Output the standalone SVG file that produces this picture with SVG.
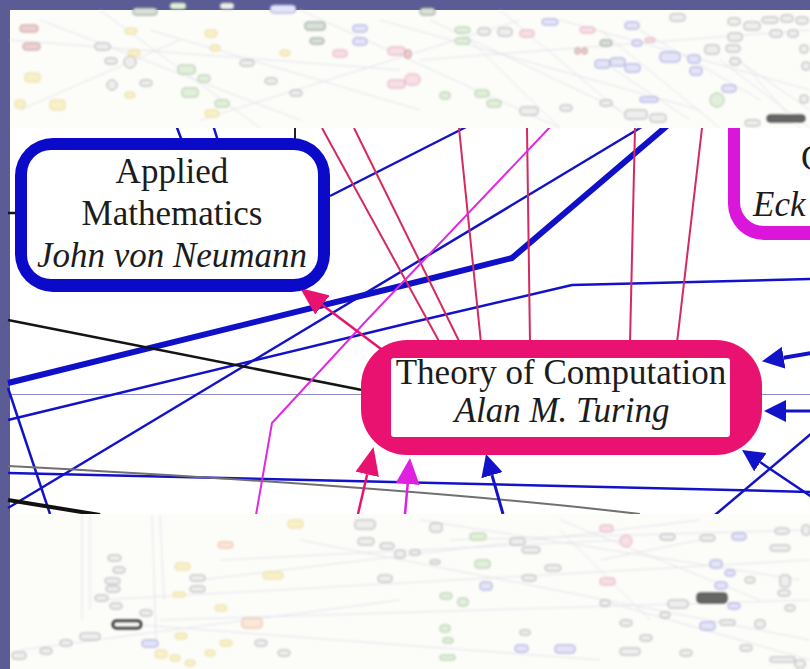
<svg xmlns="http://www.w3.org/2000/svg" width="810" height="669" viewBox="0 0 810 669">
<defs>
<style>
.lbl{font-family:"Liberation Serif","Times New Roman",serif;font-size:35px;fill:#1c1c1c;text-anchor:middle}
.it{font-style:italic}
.ln{fill:none;stroke-linejoin:round}
.bl{stroke:#1212c8;stroke-width:2.5}
.pk{stroke:#d42a5e;stroke-width:2}
.mg{stroke:#e02ae0;stroke-width:2}
.m{stroke-width:1}
.y{fill:#f8f0c8;stroke:#eadc9c}
.g{fill:#e2efdc;stroke:#a6c89c}
.p{fill:#f7dfe6;stroke:#e2a6ba}
.r{fill:#ecd0d0;stroke:#c69494}
.b{fill:#e4e4f7;stroke:#9c9cda}
.k{fill:#eeeeee;stroke:#acacac}
.kg{fill:#d8e0d8;stroke:#849484}
.o{fill:#f9e7d8;stroke:#e8b898}
.d{fill:#666;stroke:#333}
.fl{stroke:#e4e4ec;stroke-width:1;fill:none}
</style>
<filter id="soft" x="-5%" y="-5%" width="110%" height="110%"><feGaussianBlur stdDeviation="0.8"/></filter>
<marker id="ab" viewBox="0 0 22 22" refX="0" refY="11" markerWidth="22" markerHeight="22" markerUnits="userSpaceOnUse" orient="auto"><path d="M0,0 L22,11 L0,22 z" fill="#1212c8"/></marker>
<marker id="ap" viewBox="0 0 28 24" refX="0" refY="12" markerWidth="28" markerHeight="24" markerUnits="userSpaceOnUse" orient="auto"><path d="M0,0 L28,12 L0,24 z" fill="#e8136f"/></marker>
<marker id="am" viewBox="0 0 26 24" refX="0" refY="12" markerWidth="26" markerHeight="24" markerUnits="userSpaceOnUse" orient="auto"><path d="M0,0 L26,12 L0,24 z" fill="#e020e0"/></marker>
</defs>

<g id="background">
<rect x="0" y="0" width="810" height="669" fill="#5b5b95"/>
<rect x="10" y="10" width="800" height="659" fill="#ffffff"/>
<line x1="10" y1="394.5" x2="810" y2="394.5" stroke="#8c8cc4" stroke-width="1"/>
</g>

<g id="node-eckert">
<rect x="728" y="60" width="120" height="180" rx="36" fill="#d916d9"/>
<rect x="740" y="70" width="110" height="156" rx="24" fill="#ffffff"/>
<text class="lbl" x="801" y="170" style="text-anchor:start">C</text>
<text class="lbl it" x="753" y="216" style="text-anchor:start">Eck</text>
</g>

<g id="connectors">
<path class="ln" d="M8,383 L405,285 L512,258 L668,125" stroke="#1010c8" stroke-width="6"/>
<path class="ln bl" d="M8,420 L405,324 L572,285 L812,279"/>
<path class="ln bl" d="M8,508 L645,125"/>
<path class="ln bl" d="M8,388 L50,514"/>
<path class="ln bl" d="M330,196 L470,125"/>
<path class="ln bl" d="M176,125 L182,141 M213,125 L218,141"/>
<path class="ln" d="M295,125 L295,141" stroke="#222" stroke-width="2"/>
<path class="ln" d="M8,320 L362,390" stroke="#141414" stroke-width="2.5"/>
<path class="ln" d="M8,213 L16,213" stroke="#141414" stroke-width="2.5"/>
<path class="ln bl" d="M8,473 L812,492"/>
<path class="ln" d="M8,466 Q420,488 640,514" stroke="#707070" stroke-width="2"/>
<path class="ln" d="M8,500 L100,515" stroke="#111" stroke-width="4"/>
<path class="ln bl" d="M715,515 L812,433"/>
<path class="ln pk" d="M322,128 L440,343"/>
<path class="ln pk" d="M354,128 L460,343"/>
<path class="ln pk" d="M459,128 L481,343"/>
<path class="ln pk" d="M527,128 L530,343"/>
<path class="ln pk" d="M635,128 L630,343"/>
<path class="ln pk" d="M702,128 L677,343"/>
<path class="ln mg" d="M552,125 L367,320 L272,423 L256,515"/>
<path class="ln" d="M385,352 L322.4,304.9" stroke="#e8136f" stroke-width="2.5" marker-end="url(#ap)"/>
<path class="ln" d="M358,514 L367.2,474.3" stroke="#e8136f" stroke-width="2.5" marker-end="url(#ap)"/>
<path class="ln" d="M405,514 L407.7,483.9" stroke="#e020e0" stroke-width="2.5" marker-end="url(#am)"/>
<path class="ln" d="M503,514 L492,475.2" stroke="#1212c8" stroke-width="3" marker-end="url(#ab)"/>
<path class="ln" d="M812,353 L783.6,357.7" stroke="#1212c8" stroke-width="4" marker-end="url(#ab)"/>
<path class="ln" d="M812,411 L786,411" stroke="#1212c8" stroke-width="3" marker-end="url(#ab)"/>
<path class="ln" d="M812,497 L760.3,462.3" stroke="#1212c8" stroke-width="2.5" marker-end="url(#ab)"/>
</g>

<g id="node-applied-mathematics">
<rect x="15" y="138" width="315" height="154" rx="38" fill="#0a0ac8"/>
<rect x="27" y="150" width="291" height="129" rx="24" fill="#ffffff"/>
<text class="lbl" x="172" y="183">Applied</text>
<text class="lbl" x="172" y="225">Mathematics</text>
<text class="lbl it" x="172" y="267">John von Neumann</text>
</g>

<g id="node-theory-of-computation">
<rect x="361" y="340" width="401" height="115" rx="46" fill="#ea1270"/>
<rect x="391" y="358" width="339" height="79" rx="3" fill="#ffffff"/>
<text class="lbl" x="561" y="384">Theory of Computation</text>
<text class="lbl it" x="562" y="422">Alan M. Turing</text>
</g>

<g id="overview-top">
<rect x="10" y="10" width="800" height="118" fill="#fcfcf9"/>
<g filter="url(#soft)">
<path class="fl" d="M10,40 L400,70 M40,20 L300,120 M100,10 L260,128 M150,30 L420,110 M300,10 L560,128 M380,20 L700,110 M420,60 L810,30 M500,10 L640,128 M560,20 L810,90 M600,30 L720,128 M720,60 L810,128 M730,55 L810,110 M740,60 L800,128 M200,120 L520,20 M20,110 L180,40"/>
<path class="fl" d="M430,20 L620,110 M470,40 L560,128 M600,60 L690,120 M640,30 L760,100" stroke="#eadcf0"/>
<g class="m">
<rect class="r" x="20" y="25" width="18" height="7" rx="3"/>
<rect class="r" x="23" y="43" width="17" height="7" rx="3"/>
<rect class="y" x="25" y="73" width="15" height="9" rx="3"/>
<rect class="y" x="50" y="100" width="15" height="10" rx="3"/>
<rect class="y" x="15" y="100" width="10" height="8" rx="3"/>
<rect class="k" x="95" y="43" width="15" height="7" rx="3"/>
<rect class="k" x="105" y="58" width="12" height="6" rx="3"/>
<circle class="k" cx="130" cy="62" r="6"/>
<circle class="k" cx="112" cy="85" r="5"/>
<rect class="kg" x="133" y="8" width="24" height="7" rx="3"/>
<rect class="y" x="125" y="28" width="12" height="6" rx="3"/>
<rect class="y" x="128" y="50" width="12" height="6" rx="3"/>
<rect class="y" x="125" y="92" width="10" height="6" rx="3"/>
<rect class="k" x="140" y="80" width="12" height="6" rx="3"/>
<rect class="g" x="178" y="65" width="17" height="9" rx="3"/>
<rect class="g" x="182" y="88" width="16" height="9" rx="3"/>
<rect class="g" x="198" y="75" width="12" height="7" rx="3"/>
<rect class="y" x="205" y="30" width="12" height="7" rx="3"/>
<rect class="y" x="210" y="45" width="10" height="6" rx="3"/>
<rect class="g" x="215" y="100" width="14" height="7" rx="3"/>
<rect class="y" x="205" y="110" width="14" height="7" rx="3"/>
<rect class="g" x="170" y="3" width="16" height="6" rx="3"/>
<rect class="k" x="220" y="3" width="14" height="6" rx="3"/>
<rect class="k" x="240" y="60" width="14" height="6" rx="3"/>
<rect class="k" x="265" y="78" width="12" height="6" rx="3"/>
<rect class="k" x="290" y="90" width="12" height="6" rx="3"/>
<rect class="y" x="280" y="50" width="10" height="6" rx="3"/>
<rect class="b" x="270" y="5" width="26" height="8" rx="4"/>
<rect class="kg" x="305" y="22" width="20" height="8" rx="3"/>
<rect class="kg" x="310" y="38" width="14" height="6" rx="3"/>
<rect class="b" x="353" y="25" width="14" height="7" rx="3"/>
<rect class="b" x="353" y="38" width="14" height="7" rx="3"/>
<rect class="p" x="388" y="47" width="17" height="8" rx="3"/>
<rect class="p" x="388" y="80" width="17" height="8" rx="3"/>
<rect class="p" x="333" y="50" width="14" height="7" rx="3"/>
<rect class="r" x="405" y="50" width="6" height="8" rx="2"/>
<rect class="kg" x="420" y="8" width="15" height="7" rx="3"/>
<rect class="g" x="455" y="27" width="15" height="6" rx="3"/>
<rect class="g" x="455" y="38" width="15" height="6" rx="3"/>
<rect class="k" x="478" y="28" width="12" height="7" rx="3"/>
<rect class="k" x="498" y="28" width="14" height="8" rx="3"/>
<rect class="p" x="520" y="30" width="14" height="7" rx="3"/>
<rect class="b" x="542" y="19" width="16" height="6" rx="3"/>
<rect class="r" x="575" y="48" width="5" height="6" rx="2"/>
<rect class="r" x="582" y="48" width="5" height="6" rx="2"/>
<rect class="p" x="580" y="27" width="15" height="6" rx="3"/>
<rect class="kg" x="600" y="40" width="12" height="6" rx="3"/>
<rect class="b" x="595" y="60" width="15" height="8" rx="3"/>
<rect class="b" x="610" y="58" width="15" height="8" rx="3"/>
<rect class="b" x="625" y="64" width="15" height="8" rx="3"/>
<rect class="b" x="625" y="22" width="14" height="7" rx="3"/>
<rect class="b" x="632" y="40" width="10" height="6" rx="3"/>
<rect class="p" x="645" y="38" width="10" height="4" rx="2"/>
<rect class="b" x="660" y="52" width="20" height="10" rx="4"/>
<rect class="k" x="670" y="14" width="15" height="7" rx="3"/>
<rect class="b" x="688" y="55" width="12" height="8" rx="3"/>
<rect class="b" x="690" y="67" width="12" height="8" rx="3"/>
<rect class="k" x="705" y="45" width="14" height="9" rx="3"/>
<rect class="k" x="728" y="18" width="12" height="7" rx="3"/>
<rect class="k" x="728" y="33" width="14" height="8" rx="3"/>
<rect class="k" x="726" y="45" width="14" height="7" rx="3"/>
<rect class="k" x="730" y="58" width="10" height="7" rx="3"/>
<rect class="k" x="744" y="22" width="16" height="8" rx="3"/>
<rect class="k" x="762" y="17" width="16" height="6" rx="3"/>
<rect class="k" x="781" y="15" width="12" height="7" rx="3"/>
<rect class="k" x="796" y="17" width="12" height="7" rx="3"/>
<rect class="k" x="770" y="30" width="12" height="7" rx="3"/>
<rect class="k" x="788" y="30" width="10" height="7" rx="3"/>
<rect class="k" x="800" y="45" width="8" height="8" rx="3"/>
<rect class="k" x="802" y="62" width="8" height="8" rx="3"/>
<rect class="k" x="800" y="95" width="8" height="8" rx="3"/>
<circle class="g" cx="717" cy="100" r="7"/>
<rect class="b" x="722" y="85" width="14" height="7" rx="3"/>
<rect class="d" x="767" y="115" width="38" height="7" rx="3"/>
<rect class="k" x="745" y="120" width="15" height="6" rx="3"/>
<rect class="g" x="475" y="90" width="14" height="7" rx="3"/>
<rect class="g" x="487" y="100" width="14" height="7" rx="3"/>
<rect class="g" x="440" y="92" width="10" height="7" rx="3"/>
<rect class="k" x="520" y="107" width="18" height="8" rx="3"/>
<rect class="p" x="405" y="74" width="15" height="11" rx="5"/>
<rect class="b" x="640" y="97" width="18" height="5" rx="2"/>
<rect class="k" x="625" y="110" width="22" height="9" rx="3"/>
<rect class="k" x="650" y="114" width="16" height="8" rx="3"/>
<rect class="k" x="560" y="105" width="12" height="6" rx="3"/>
<rect class="k" x="600" y="100" width="12" height="6" rx="3"/>
</g>
</g>
</g>

<g id="overview-bottom">
<rect x="10" y="514" width="800" height="155" fill="#fcfcf9"/>
<g filter="url(#soft)">
<path class="fl" d="M82,515 L82,620 M90,515 L90,610 M152,515 L156,640 M160,515 L164,600 M100,600 L810,560 M160,620 L810,600 M200,580 L700,520 M140,625 L600,660 M300,540 L810,640 M220,560 L620,540 M420,520 L800,580 M450,540 L810,530 M600,600 L810,660 M560,520 L760,600 M20,650 L400,600"/>
<path class="fl" d="M560,530 L650,620 M600,560 L700,540" stroke="#f0dcec"/>
<g class="m">
<rect class="k" x="108" y="555" width="13" height="6" rx="3"/>
<rect class="k" x="113" y="567" width="12" height="6" rx="3"/>
<rect class="k" x="105" y="578" width="15" height="6" rx="3"/>
<rect class="k" x="106" y="586" width="14" height="6" rx="3"/>
<rect class="k" x="95" y="595" width="13" height="6" rx="3"/>
<rect class="k" x="110" y="603" width="12" height="6" rx="3"/>
<rect class="k" x="140" y="610" width="12" height="6" rx="3"/>
<rect x="113" y="621" width="28" height="7" rx="3.5" fill="#ffffff" stroke="#2a2a2a" stroke-width="3"/>
<rect class="k" x="80" y="633" width="20" height="7" rx="3"/>
<rect class="k" x="60" y="640" width="12" height="6" rx="3"/>
<rect class="k" x="40" y="648" width="12" height="6" rx="3"/>
<rect class="k" x="12" y="652" width="14" height="7" rx="3"/>
<rect class="y" x="175" y="563" width="15" height="7" rx="3"/>
<rect class="y" x="173" y="592" width="12" height="5" rx="2"/>
<rect class="y" x="215" y="605" width="12" height="6" rx="3"/>
<rect class="y" x="288" y="520" width="15" height="8" rx="3"/>
<rect class="y" x="263" y="572" width="20" height="7" rx="3"/>
<rect class="y" x="175" y="633" width="12" height="6" rx="3"/>
<rect class="y" x="220" y="640" width="12" height="6" rx="3"/>
<rect class="y" x="155" y="650" width="12" height="8" rx="3"/>
<rect class="y" x="170" y="655" width="10" height="6" rx="3"/>
<rect class="y" x="185" y="660" width="10" height="6" rx="3"/>
<rect class="y" x="205" y="650" width="10" height="6" rx="3"/>
<rect class="k" x="190" y="575" width="15" height="6" rx="3"/>
<rect class="k" x="190" y="586" width="15" height="6" rx="3"/>
<rect class="o" x="218" y="542" width="15" height="6" rx="3"/>
<rect class="o" x="242" y="618" width="20" height="10" rx="3"/>
<rect class="b" x="142" y="640" width="16" height="7" rx="3"/>
<rect class="k" x="255" y="640" width="12" height="6" rx="3"/>
<rect class="k" x="278" y="650" width="12" height="6" rx="3"/>
<rect class="k" x="355" y="520" width="20" height="9" rx="3"/>
<rect class="k" x="358" y="538" width="16" height="7" rx="3"/>
<rect class="k" x="380" y="543" width="14" height="6" rx="3"/>
<rect class="k" x="378" y="575" width="14" height="7" rx="3"/>
<rect class="k" x="395" y="550" width="10" height="8" rx="3"/>
<rect class="k" x="430" y="523" width="12" height="9" rx="3"/>
<rect class="g" x="470" y="533" width="16" height="7" rx="3"/>
<rect class="k" x="410" y="550" width="10" height="5" rx="2"/>
<rect class="g" x="475" y="560" width="15" height="8" rx="3"/>
<rect class="k" x="430" y="560" width="10" height="4" rx="2"/>
<rect class="k" x="510" y="538" width="15" height="7" rx="3"/>
<rect class="k" x="522" y="547" width="18" height="6" rx="3"/>
<rect class="g" x="440" y="593" width="12" height="6" rx="3"/>
<rect class="g" x="458" y="598" width="10" height="8" rx="3"/>
<rect class="b" x="480" y="582" width="12" height="8" rx="3"/>
<rect class="k" x="545" y="565" width="16" height="6" rx="3"/>
<rect class="k" x="522" y="575" width="14" height="6" rx="3"/>
<rect class="p" x="600" y="525" width="13" height="7" rx="3"/>
<rect class="p" x="620" y="535" width="12" height="12" rx="6"/>
<rect class="p" x="600" y="578" width="15" height="7" rx="3"/>
<rect class="k" x="660" y="534" width="15" height="6" rx="3"/>
<rect class="k" x="700" y="535" width="15" height="6" rx="3"/>
<rect class="b" x="732" y="533" width="14" height="7" rx="3"/>
<rect class="k" x="775" y="528" width="14" height="6" rx="3"/>
<rect class="k" x="770" y="545" width="20" height="6" rx="3"/>
<rect class="k" x="802" y="525" width="8" height="10" rx="3"/>
<rect class="b" x="710" y="560" width="12" height="8" rx="3"/>
<rect class="b" x="725" y="570" width="10" height="6" rx="3"/>
<rect class="b" x="715" y="582" width="12" height="7" rx="3"/>
<rect class="k" x="745" y="577" width="10" height="6" rx="3"/>
<rect class="k" x="780" y="575" width="10" height="12" rx="3"/>
<rect class="k" x="778" y="590" width="12" height="6" rx="3"/>
<rect class="d" x="697" y="593" width="30" height="10" rx="3"/>
<rect class="k" x="668" y="600" width="20" height="8" rx="3"/>
<rect class="b" x="728" y="603" width="12" height="6" rx="3"/>
<rect class="b" x="700" y="622" width="15" height="8" rx="3"/>
<rect class="k" x="720" y="620" width="15" height="5" rx="2"/>
<rect class="k" x="755" y="620" width="10" height="8" rx="3"/>
<rect class="k" x="785" y="605" width="10" height="6" rx="3"/>
<rect class="b" x="515" y="645" width="13" height="7" rx="3"/>
<rect class="b" x="555" y="645" width="20" height="8" rx="3"/>
<rect class="g" x="440" y="625" width="10" height="7" rx="3"/>
<rect class="g" x="443" y="638" width="10" height="5" rx="2"/>
<rect class="g" x="440" y="655" width="15" height="5" rx="2"/>
<rect class="k" x="520" y="630" width="10" height="5" rx="2"/>
<rect class="k" x="620" y="648" width="20" height="7" rx="3"/>
<rect class="k" x="770" y="657" width="25" height="5" rx="2"/>
<rect class="k" x="795" y="660" width="10" height="8" rx="3"/>
<rect class="k" x="640" y="635" width="12" height="6" rx="3"/>
<rect class="k" x="660" y="612" width="10" height="6" rx="3"/>
<rect class="k" x="600" y="600" width="10" height="6" rx="3"/>
<rect class="k" x="620" y="620" width="12" height="6" rx="3"/>
<rect class="k" x="680" y="650" width="12" height="6" rx="3"/>
<rect class="k" x="740" y="645" width="12" height="6" rx="3"/>
</g>
</g>
</g>
</svg>
